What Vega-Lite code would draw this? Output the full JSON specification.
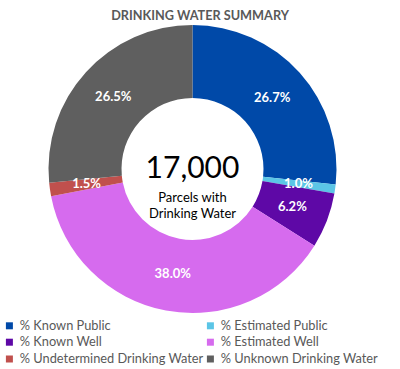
{
  "$schema": "https://vega.github.io/schema/vega-lite/v6.json",
  "autosize": "none",
  "width": 385,
  "height": 286,
  "padding": {"left": 0, "top": 26, "right": 15, "bottom": 57},
  "background": "white",
  "config": {"view": {"stroke": null}, "font": "Lato"},
  "title": {
    "text": "DRINKING WATER SUMMARY",
    "font": "Lato",
    "fontSize": 12.7,
    "fontWeight": "bold",
    "color": "#595959",
    "anchor": "middle",
    "dx": 7.5,
    "offset": 2
  },
  "layer": [
    {
      "data": {"values": [
        {"idx": 1, "category": "% Known Public", "pct": 0.267},
        {"idx": 2, "category": "% Estimated Public", "pct": 0.010},
        {"idx": 3, "category": "% Known Well", "pct": 0.062},
        {"idx": 4, "category": "% Estimated Well", "pct": 0.380},
        {"idx": 5, "category": "% Undetermined Drinking Water", "pct": 0.015},
        {"idx": 6, "category": "% Unknown Drinking Water", "pct": 0.265}
      ]},
      "layer": [
        {
          "mark": {"type": "arc", "outerRadius": 144, "innerRadius": 71},
          "encoding": {
            "theta": {"field": "pct", "type": "quantitative", "stack": true},
            "order": {"field": "idx", "type": "quantitative"},
            "color": {
              "field": "category",
              "type": "nominal",
              "scale": {
                "domain": ["% Known Public", "% Estimated Public", "% Known Well", "% Estimated Well", "% Undetermined Drinking Water", "% Unknown Drinking Water"],
                "range": ["#0049A8", "#5BC5E6", "#5E08A6", "#D66BEE", "#C0504D", "#5F5F5F"]
              },
              "legend": {
                "title": null,
                "orient": "none",
                "direction": "horizontal",
                "legendX": 3,
                "legendY": 293,
                "columns": 2,
                "symbolType": "square",
                "symbolSize": 49,
                "symbolStrokeWidth": 0,
                "labelFont": "Lato",
                "labelFontSize": 12.8,
                "labelColor": "#595959",
                "labelOffset": 4,
                "rowPadding": 2.8,
                "columnPadding": -8,
                "padding": 0,
                "labelLimit": 300
              }
            }
          }
        },
        {
          "mark": {"type": "text", "radius": 107, "font": "Lato", "fontSize": 13, "fontWeight": "bold", "color": "white"},
          "encoding": {
            "theta": {"field": "pct", "type": "quantitative", "stack": true},
            "order": {"field": "idx", "type": "quantitative"},
            "text": {"field": "pct", "type": "quantitative", "format": ".1%"}
          }
        }
      ]
    },
    {
      "data": {"values": [{"label": "17,000"}]},
      "mark": {"type": "text", "font": "Lato", "fontSize": 30, "color": "#000000", "baseline": "alphabetic", "dy": 9},
      "encoding": {"text": {"field": "label", "type": "nominal"}}
    },
    {
      "data": {"values": [{"label": ["Parcels with", "Drinking Water"]}]},
      "mark": {"type": "text", "font": "Lato", "fontSize": 13, "color": "#000000", "baseline": "alphabetic", "dy": 33, "lineHeight": 16},
      "encoding": {"text": {"field": "label", "type": "nominal"}}
    }
  ]
}
